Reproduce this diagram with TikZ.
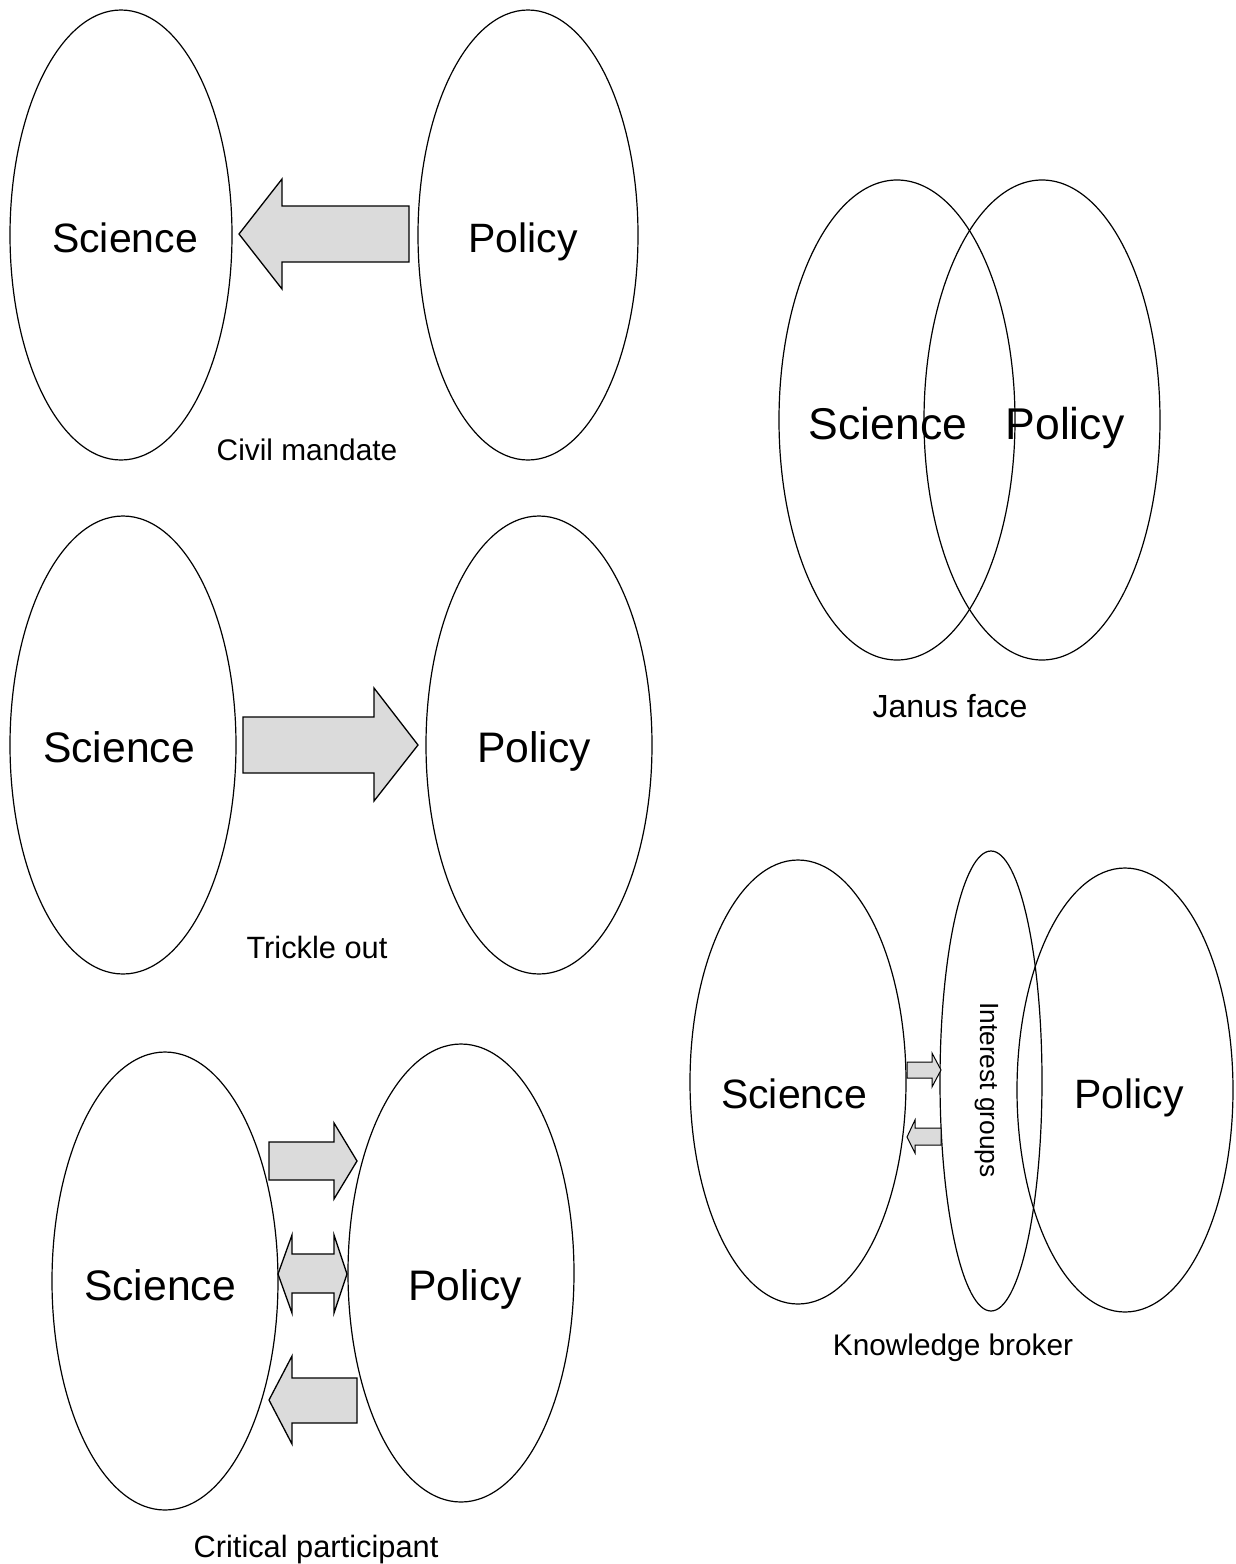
\documentclass[tikz,border=0pt]{standalone}
\usepackage{fontspec}
\setmainfont{Liberation Sans}
\usetikzlibrary{shapes.geometric}

\tikzset{
  oval/.style={draw, ellipse, line width=1.2pt, inner sep=0pt},
  blockarrow/.style={draw, fill=black!14, line width=1.3pt, line join=miter},
  bigword/.style={anchor=base, font=\fontsize{41}{48}\selectfont},
  caption/.style={anchor=base, font=\fontsize{29.8}{35}\selectfont}
}

\begin{document}
\begin{tikzpicture}[x=1pt, y=-1pt]
\useasboundingbox (0,0) rectangle (1236,1564);
% Civil mandate
\node[oval, minimum width=222pt, minimum height=450pt] (cmsci) at (121,235) {};
\node[oval, minimum width=220pt, minimum height=450pt] (cmpol) at (528,235) {};
\path[blockarrow] (409,206)--(282,206)--(282,179)--(239,234)--(282,289)--(282,262)--(409,262)--cycle;
\node[bigword] (cmscit) at (125,252) {Science};
\node[bigword] (cmpolt) at (523,252) {Policy};
\node[caption] (cmcap) at (307,460) {Civil mandate};
% Trickle out
\node[oval, minimum width=226pt, minimum height=458pt] (tosci) at (123,745) {};
\node[oval, minimum width=226pt, minimum height=458pt] (topol) at (539,745) {};
\path[blockarrow] (243,717)--(374,717)--(374,688)--(418,745)--(374,801)--(374,773)--(243,773)--cycle;
\node[bigword, font=\fontsize{42.7}{50}\selectfont] (toscit) at (119,762) {Science};
\node[bigword, font=\fontsize{42.7}{50}\selectfont] (topolt) at (534,762) {Policy};
\node[caption, font=\fontsize{30.8}{36}\selectfont] (tocap) at (317,958) {Trickle out};
% Critical participant
\node[oval, minimum width=226pt, minimum height=458pt] (cpsci) at (165,1281) {};
\node[oval, minimum width=226pt, minimum height=458pt] (cppol) at (461,1273) {};
\path[blockarrow] (269,1142)--(334,1142)--(334,1123)--(357,1161)--(334,1199)--(334,1180)--(269,1180)--cycle;
\path[blockarrow] (278,1274)--(292,1235)--(292,1254)--(334,1254)--(334,1235)--(347,1274)
  --(334,1313)--(334,1293)--(292,1293)--(292,1313)--cycle;
\path[blockarrow] (357,1378)--(292,1378)--(292,1356)--(269,1400)--(292,1444)--(292,1423)--(357,1423)--cycle;
\node[bigword, font=\fontsize{42.7}{50}\selectfont] (cpscit) at (160,1300) {Science};
\node[bigword, font=\fontsize{42.7}{50}\selectfont] (cppolt) at (465,1300) {Policy};
\node[caption, font=\fontsize{30.8}{36}\selectfont] (cpcap) at (316,1557) {Critical participant};
% Janus face
\node[oval, minimum width=236pt, minimum height=480pt] (jfsci) at (897,420) {};
\node[oval, minimum width=236pt, minimum height=480pt] (jfpol) at (1042,420) {};
\node[bigword, font=\fontsize{44.5}{52}\selectfont] (jfscit) at (888,439) {Science};
\node[bigword, font=\fontsize{44.5}{52}\selectfont] (jfpolt) at (1065,439) {Policy};
\node[caption, font=\fontsize{32}{38}\selectfont] (jfcap) at (950,717) {Janus face};
% Knowledge broker
\node[oval, minimum width=216pt, minimum height=444pt] (kbsci) at (798,1082) {};
\node[oval, minimum width=102pt, minimum height=460pt] (kbint) at (991,1081) {};
\node[oval, minimum width=216pt, minimum height=444pt] (kbpol) at (1125,1090) {};
\path[blockarrow, line width=1pt] (907,1062)--(932,1062)--(932,1053)--(941,1070)--(932,1087)--(932,1078)--(907,1078)--cycle;
\path[blockarrow, line width=1pt] (941,1128)--(915,1128)--(915,1120)--(907,1137)--(915,1153)--(915,1145)--(941,1145)--cycle;
\node[bigword] (kbscit) at (794,1108) {Science};
\node[bigword] (kbpolt) at (1129,1108) {Policy};
\node[font=\fontsize{26.3}{31}\selectfont, rotate=-90] (kbintt) at (987,1090) {Interest groups};
\node[caption] (kbcap) at (953,1355) {Knowledge broker};
\end{tikzpicture}
\end{document}
